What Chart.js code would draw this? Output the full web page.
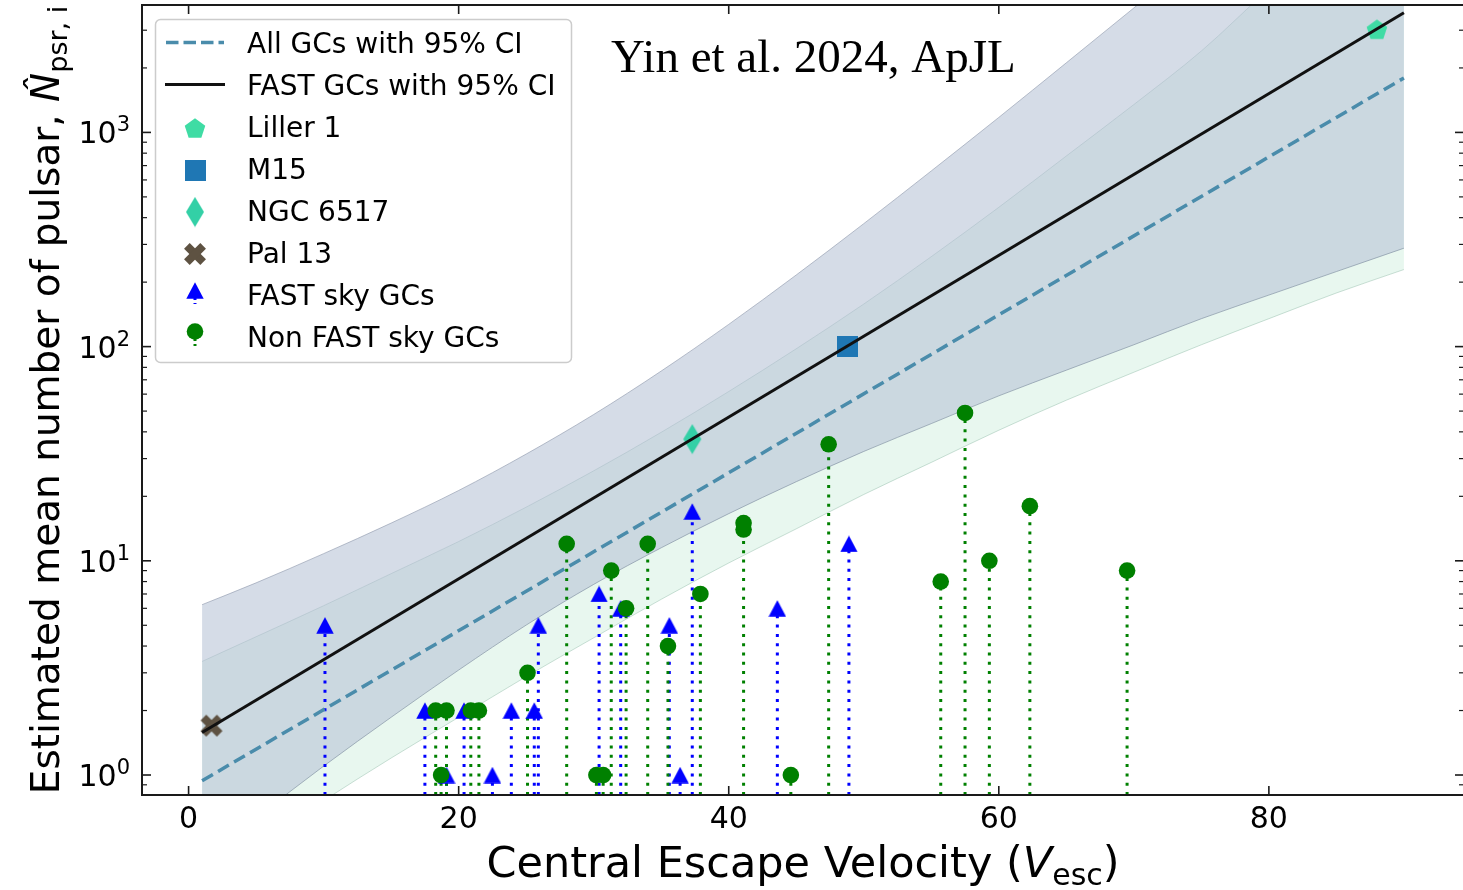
<!DOCTYPE html>
<html>
<head>
<meta charset="utf-8">
<title>Pulsar abundance vs central escape velocity</title>
<script src="https://cdn.jsdelivr.net/npm/chart.js@4.4.1/dist/chart.umd.min.js"></script>
<style>
  html, body { margin: 0; padding: 0; background: #ffffff; overflow: hidden; }
  #wrap { width: 1466px; height: 890px; }
</style>
</head>
<body>
<div id="wrap"><canvas id="chart" width="1466" height="890"></canvas></div>
<script>
// ---------------- data ----------------
// Globular clusters in the FAST sky: escape velocity and estimated pulsar number
const fastV = [10.1, 17.5, 19.1, 20.4, 22.5, 23.9, 25.6, 25.9, 30.4, 32.0, 35.6, 36.4, 37.3, 43.6, 48.9];
const fastN = [5, 2, 1, 2, 1, 2, 2, 5, 7, 6, 5, 1, 17, 6, 12];

// Globular clusters outside the FAST sky
const nonFastV = [18.3, 18.7, 19.1, 20.9, 21.5, 25.1, 28.0, 30.2, 30.7, 31.3, 32.4, 34.0, 35.5, 37.9, 41.1, 41.1, 44.6, 47.4, 55.7, 57.5, 59.3, 62.3, 69.5];
const nonFastN = [2, 1, 2, 2, 2, 3, 12, 1, 1, 9, 6, 12, 4, 7, 15, 14, 1, 35, 8, 49, 10, 18, 9];

// Individually labelled clusters
const namedClusters = ['Liller 1', 'M15', 'NGC 6517', 'Pal 13'];
const namedV = [88.0, 48.8, 37.3, 1.7];
const namedN = [3000, 100, 37, 1.7];

// Log-linear fits (end points)
const fitV = [1, 90];
const allFitN = [0.94, 1795];
const fastFitN = [1.58, 3620];

// 95% confidence bands
const bandV = [1, 5, 10, 15, 20, 25, 30, 35, 40, 45, 50, 55, 60, 65, 70, 75, 80, 85, 90];
const fastUpper = [6.24, 7.89, 10.8, 15.0, 21.3, 31.5, 48.2, 76.9, 127, 216, 375, 661, 1175, 2113, 3811, 6918, 12590, 22910, 41690];
const fastLower = [0.398, 0.631, 1.10, 1.86, 3.09, 5.01, 7.76, 11.5, 16.6, 23.4, 32.4, 43.7, 58.9, 77.6, 102, 135, 174, 224, 288];
const allUpper = [3.39, 4.42, 6.17, 8.71, 12.3, 17.8, 26.3, 39.8, 61.7, 97.7, 158, 263, 447, 776, 1349, 2399, 4677, 8710, 16220];
const allLower = [0.295, 0.468, 0.759, 1.20, 1.86, 2.88, 4.37, 6.61, 9.77, 14.1, 20.4, 28.8, 40.7, 56.2, 75.9, 102, 135, 178, 229];

// Axis ticks and limits
const xTicks = [0, 20, 40, 60, 80];
const yTicks = [1, 10, 100, 1000];
const yTickExp = ['0', '1', '2', '3'];
const X_MIN = -3.45, X_MAX = 94.45;
const Y_MIN = 0.8066, Y_MAX = 3934;

const legendLabels = ['All GCs with 95% CI', 'FAST GCs with 95% CI', namedClusters[0], namedClusters[1], namedClusters[2], namedClusters[3], 'FAST sky GCs', 'Non FAST sky GCs'];

// ---------------- styles ----------------
const C_BLUE = '#0000ff';
const C_GREEN = '#008000';
const C_M15 = '#1f77b4';
const C_LILLER = '#3fdca4';
const C_NGC = '#33d0a6';
const C_PAL = '#5e5242';
const C_ALLFIT = '#4a8cab';
const C_FASTFIT = '#111111';
const FONT = '"DejaVu Sans", sans-serif';

// ---------------- marker glyphs ----------------
function glyph(w, h, draw) {
  const c = document.createElement('canvas');
  c.width = w; c.height = h;
  draw(c.getContext('2d'), w, h);
  return c;
}
const triIcon = glyph(18, 17, (g, w, h) => {
  g.fillStyle = C_BLUE; g.beginPath();
  g.moveTo(w / 2, 0.3); g.lineTo(w - 0.3, h - 0.3); g.lineTo(0.3, h - 0.3); g.closePath(); g.fill();
});
const pentIcon = glyph(24, 24, (g) => {
  g.fillStyle = C_LILLER; g.beginPath();
  for (let k = 0; k < 5; k++) {
    const a = -Math.PI / 2 + k * 2 * Math.PI / 5;
    const px = 12 + 10.8 * Math.cos(a), py = 12 + 10.8 * Math.sin(a);
    k ? g.lineTo(px, py) : g.moveTo(px, py);
  }
  g.closePath(); g.fill();
});
const squareIcon = glyph(21, 21, (g, w, h) => { g.fillStyle = C_M15; g.fillRect(0, 0, w, h); });
const diamondIcon = glyph(20, 31, (g, w, h) => {
  g.fillStyle = C_NGC; g.beginPath();
  g.moveTo(w / 2, 0.5); g.lineTo(w - 1, h / 2); g.lineTo(w / 2, h - 0.5); g.lineTo(1, h / 2); g.closePath(); g.fill();
});
const crossIcon = glyph(24, 24, (g) => {
  g.fillStyle = C_PAL; g.translate(12, 12); g.rotate(Math.PI / 4);
  g.fillRect(-11.5, -4, 23, 8); g.fillRect(-4, -11.5, 8, 23);
});
const namedIcons = [pentIcon, squareIcon, diamondIcon, crossIcon];

// ---------------- helpers ----------------
const pts = (xs, ys) => xs.map((x, i) => ({ x, y: ys[i] }));
function stems(xs, ys) {
  const d = [];
  xs.forEach((x, i) => { d.push({ x, y: Y_MIN }, { x, y: ys[i] }, { x, y: null }); });
  return d;
}
const bandLine = (data, fill, bg, edge, order) => ({
  data, fill, backgroundColor: bg, borderColor: edge, borderWidth: 1,
  pointRadius: 0, cubicInterpolationMode: 'monotone', order, clip: 0
});

// ---------------- plugins ----------------
function seg(ctx, x1, y1, x2, y2) { ctx.beginPath(); ctx.moveTo(x1, y1); ctx.lineTo(x2, y2); ctx.stroke(); }

const framePlugin = {
  id: 'frame',
  afterDatasetsDraw(chart) {
    const { ctx, chartArea: a, scales: { x, y } } = chart;
    ctx.save();
    ctx.strokeStyle = '#1a1a1a';
    ctx.lineWidth = 1.6;
    xTicks.forEach(v => {
      const px = x.getPixelForValue(v);
      seg(ctx, px, a.bottom, px, a.bottom - 9);
      seg(ctx, px, a.top, px, a.top + 9);
    });
    for (let d = -1; d <= 3; d++) {
      for (let k = 1; k <= 9; k++) {
        const v = k * Math.pow(10, d);
        if (v < Y_MIN || v > Y_MAX) continue;
        const py = y.getPixelForValue(v);
        const len = k === 1 ? 9 : 5;
        ctx.lineWidth = k === 1 ? 1.6 : 1.2;
        seg(ctx, a.left, py, a.left + len, py);
        seg(ctx, a.right, py, a.right - len, py);
      }
    }
    ctx.lineWidth = 2;
    ctx.strokeRect(a.left, a.top, a.right - a.left, a.bottom - a.top);

    // decade labels: base "10" with a raised exponent
    ctx.fillStyle = '#000';
    ctx.textBaseline = 'alphabetic';
    ctx.textAlign = 'left';
    yTicks.forEach((v, i) => {
      const py = y.getPixelForValue(v);
      ctx.font = '21px ' + FONT;
      const ew = ctx.measureText(yTickExp[i]).width;
      ctx.font = '30px ' + FONT;
      const bw = ctx.measureText('10').width;
      const right = a.left - 12;
      ctx.fillText('10', right - ew - bw, py + 11);
      ctx.font = '21px ' + FONT;
      ctx.fillText(yTickExp[i], right - ew, py - 1);
    });
    ctx.restore();
  }
};

// text runs: [{t, font, dy}]
function runsWidth(ctx, runs) {
  let w = 0;
  runs.forEach(r => { ctx.font = r.font; w += ctx.measureText(r.t).width; });
  return w;
}
function drawRuns(ctx, runs, x0, y0) {
  let x = x0;
  runs.forEach(r => {
    ctx.font = r.font;
    ctx.fillText(r.t, x, y0 + (r.dy || 0));
    x += ctx.measureText(r.t).width;
  });
}

const titlePlugin = {
  id: 'titles',
  afterDraw(chart) {
    const { ctx, chartArea: a } = chart;
    ctx.save();
    ctx.fillStyle = '#000';
    ctx.textBaseline = 'alphabetic';
    ctx.textAlign = 'left';
    // x axis title
    const xr = [
      { t: 'Central Escape Velocity (', font: '43px ' + FONT },
      { t: 'V', font: 'italic 43px ' + FONT },
      { t: 'esc', font: '30px ' + FONT, dy: 8 },
      { t: ')', font: '43px ' + FONT }
    ];
    const cx = (a.left + a.right) / 2;
    drawRuns(ctx, xr, cx - runsWidth(ctx, xr) / 2, 877);
    // y axis title
    const yr = [
      { t: 'Estimated mean number of pulsar, ', font: '39px ' + FONT },
      { t: 'N\u0302', font: 'italic 39px ' + FONT },
      { t: 'psr, i', font: '27px ' + FONT, dy: 8 }
    ];
    ctx.translate(59, (a.top + a.bottom) / 2);
    ctx.rotate(-Math.PI / 2);
    drawRuns(ctx, yr, -runsWidth(ctx, yr) / 2, 0);
    ctx.restore();

    // citation note
    ctx.save();
    ctx.fillStyle = '#000';
    ctx.font = '47px "Liberation Serif", serif';
    ctx.textBaseline = 'alphabetic';
    ctx.fillText('Yin et al. 2024, ApJL', 611, 72);
    ctx.restore();
  }
};

const legendPlugin = {
  id: 'panelLegend',
  afterDraw(chart) {
    const ctx = chart.ctx;
    ctx.save();
    ctx.beginPath();
    ctx.roundRect(155.5, 19.5, 416, 343, 5);
    ctx.fillStyle = 'rgba(255,255,255,0.85)';
    ctx.fill();
    ctx.strokeStyle = '#cccccc';
    ctx.lineWidth = 1.5;
    ctx.stroke();

    const rowY = i => 42.5 + 42 * i;
    const hx = 195;
    // line handles
    ctx.lineWidth = 3.5; ctx.strokeStyle = C_ALLFIT; ctx.setLineDash([12.5, 5]);
    seg(ctx, 166, rowY(0), 224, rowY(0));
    ctx.setLineDash([]);
    ctx.lineWidth = 3; ctx.strokeStyle = C_FASTFIT;
    seg(ctx, 165, rowY(1), 225, rowY(1));
    // named markers
    const icons = [pentIcon, squareIcon, diamondIcon, crossIcon];
    const iconY = [129, 170.5, 212, 254];
    icons.forEach((ic, i) => ctx.drawImage(ic, hx - ic.width / 2, iconY[i] - ic.height / 2));
    // stem handles
    ctx.lineWidth = 3; ctx.setLineDash([3, 3]);
    ctx.strokeStyle = C_BLUE; seg(ctx, hx, 291, hx, 304);
    ctx.strokeStyle = C_GREEN; seg(ctx, hx, 332, hx, 346);
    ctx.setLineDash([]);
    ctx.drawImage(triIcon, hx - triIcon.width / 2, 290.5 - triIcon.height / 2);
    ctx.fillStyle = C_GREEN; ctx.beginPath(); ctx.arc(hx, 331.5, 8.3, 0, 2 * Math.PI); ctx.fill();

    // labels
    ctx.fillStyle = '#000';
    ctx.font = '28px ' + FONT;
    ctx.textBaseline = 'alphabetic';
    legendLabels.forEach((t, i) => ctx.fillText(t, 247, rowY(i) + 10));
    ctx.restore();
  }
};

// ---------------- chart ----------------
new Chart(document.getElementById('chart'), {
  type: 'line',
  data: {
    datasets: [
      // 0-1: all-GC confidence band
      bandLine(pts(bandV, allUpper), '+1', 'rgba(140,215,175,0.2)', 'rgba(150,180,175,0.5)', 20),
      bandLine(pts(bandV, allLower), false, 'rgba(0,0,0,0)', 'rgba(140,185,165,0.45)', 19),
      // 2-3: FAST-GC confidence band
      bandLine(pts(bandV, fastUpper), '+1', 'rgba(181,193,213,0.565)', 'rgba(140,150,170,0.6)', 18),
      bandLine(pts(bandV, fastLower), false, 'rgba(0,0,0,0)', 'rgba(120,135,155,0.6)', 17),
      // 4-5: stems
      { data: stems(fastV, fastN), borderColor: C_BLUE, borderWidth: 3, borderDash: [3, 6.3],
        pointRadius: 0, fill: false, order: 13, clip: 0, spanGaps: false },
      { data: stems(nonFastV, nonFastN), borderColor: C_GREEN, borderWidth: 3, borderDash: [3, 6.3],
        pointRadius: 0, fill: false, order: 12, clip: 0, spanGaps: false },
      // 6: named clusters
      { data: pts(namedV, namedN), showLine: false, pointStyle: namedIcons, pointRadius: 11,
        order: 8, clip: false },
      // 7-8: fits
      { data: pts(fitV, allFitN), borderColor: C_ALLFIT, borderWidth: 3.5, borderDash: [12.5, 6],
        pointRadius: 0, fill: false, order: 6, clip: 0 },
      { data: pts(fitV, fastFitN), borderColor: C_FASTFIT, borderWidth: 3,
        pointRadius: 0, fill: false, order: 5, clip: 0 },
      // 9-10: cluster markers
      { data: pts(fastV, fastN), showLine: false, pointStyle: triIcon, pointRadius: 9, order: 3 },
      { data: pts(nonFastV, nonFastN), showLine: false, pointStyle: 'circle', pointRadius: 8.3,
        pointBackgroundColor: C_GREEN, pointBorderWidth: 0, order: 2 }
    ]
  },
  options: {
    responsive: false,
    animation: false,
    events: [],
    layout: { autoPadding: false, padding: { top: 5, right: 2, bottom: 0, left: 0 } },
    plugins: { legend: { display: false }, tooltip: { enabled: false } },
    scales: {
      x: {
        type: 'linear', min: X_MIN, max: X_MAX,
        afterBuildTicks: s => { s.ticks = xTicks.map(v => ({ value: v })); },
        afterFit: s => { s.height = 95; s.paddingLeft = 0; s.paddingRight = 0; },
        grid: { display: false, drawTicks: false },
        border: { display: false },
        ticks: { font: { family: 'DejaVu Sans', size: 30 }, color: '#000', padding: 7,
                 maxRotation: 0, autoSkip: false, callback: v => String(v) }
      },
      y: {
        type: 'logarithmic', min: Y_MIN, max: Y_MAX,
        afterBuildTicks: s => { s.ticks = yTicks.map(v => ({ value: v })); },
        afterFit: s => { s.width = 142; s.paddingTop = 0; s.paddingBottom = 0; },
        grid: { display: false, drawTicks: false },
        border: { display: false },
        ticks: { display: false }
      }
    }
  },
  plugins: [framePlugin, titlePlugin, legendPlugin]
});
</script>
</body>
</html>
